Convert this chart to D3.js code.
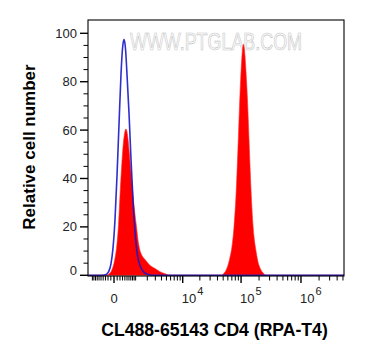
<!DOCTYPE html>
<html><head><meta charset="utf-8">
<script src="https://cdn.jsdelivr.net/npm/d3@7"></script>
<style>body{margin:0;background:#fff}svg{display:block}</style>
</head><body>
<svg id="c" width="365" height="360"></svg>
<script>
// ---- data (fluorescence intensity, relative cell number) ----
const blueX = [-1300,-550,-362,-238,-164,-94,-30,30,94,164,238,298,362,429,500,602,711,830,958,1096,1323,1671,2077,2549,5200000];
const blueY = [0,0,0.1,0.6,1.8,4.8,11.3,23,41,62.5,83,93.6,97.5,93.6,83,67,48,31,18,9.5,4,1.2,0.3,0,0];

const redX = [-1300,-278,-164,-94,-30,30,94,146,200,258,319,384,452,525,602,683,770,861,958,1060,1169,1284,1406,1579,1767,1969,2188,2549,2954,3408,3917,4489,5130,5849,
  45980,51670,58050,63960,70470,76140,82270,88890,94190,99810,104950,109080,114240,121060,128260,135900,143980,152540,164740,177920,192150,207520,232890,261400,5200000];
const redY = [0,0,0.5,1.5,3.5,7,13,21,33,44,53,58.5,60.5,58,52,45,38,31,25,20,14.5,11,9,7.5,6.5,5.5,4.5,3.5,2.8,2,1.3,0.8,0.3,0,
  0,0.8,3,6.5,12,20,33,53,70,84,92.5,95.5,93,84,72,56,40,27,16,10,5.5,3,1,0,0];

const xMajorTicks = [0, 1e4, 1e5, 1e6];
const xMajorLabels = ["0", "4", "5", "6"]; // exponents of 10 (0 is plain)
const yTicks = [0, 20, 40, 60, 80, 100];
const xTitle = "CL488-65143 CD4 (RPA-T4)";
const yTitle = "Relative cell number";
const watermark = "WWW.PTGLAB.COM";

// ---- layout ----
const L = 88, R = 344, T = 20, B = 276;
const svg = d3.select("#c");

const x = d3.scaleSymlog().constant(775).domain([-1324, 5.2e6]).range([L, R]);
const y = d3.scaleLinear().domain([-0.3, 105.5]).range([B, T]);

// minor ticks
const xMinor = [];
[100, 1000, 10000, 100000, 1000000].forEach(d => {
  for (let m = 1; m <= 9; m++) {
    const v = m * d;
    if (v > 5.2e6) continue;
    if (!xMajorTicks.includes(v)) xMinor.push(v);
    if (d <= 100 || (d === 1000 && m === 1)) xMinor.push(-v);
  }
});
const yMinor = d3.range(5, 100, 5).filter(v => v % 20 !== 0);

// watermark
svg.append("text").attr("x", 130).attr("y", 49.5)
  .attr("textLength", 172).attr("lengthAdjust", "spacingAndGlyphs")
  .attr("font-family", "Liberation Sans, Arial, sans-serif").attr("font-size", 24)
  .attr("fill", "none").attr("stroke", "#c4c4c4").attr("stroke-width", 0.7)
  .text(watermark);

// red filled histogram
const redData = redX.map((v, i) => [v, redY[i]]);
svg.append("path").datum(redData)
  .attr("d", d3.area().x(d => x(d[0])).y0(y(0)).y1(d => y(d[1])).curve(d3.curveMonotoneX))
  .attr("fill", "#ff0000").attr("stroke", "#ff2a2a").attr("stroke-width", 0.6);

// blue line histogram
const blueData = blueX.map((v, i) => [v, blueY[i]]);
svg.append("path").datum(blueData)
  .attr("d", d3.line().x(d => x(d[0])).y(d => y(d[1])).curve(d3.curveMonotoneX))
  .attr("fill", "none").attr("stroke", "#1818c8").attr("stroke-width", 1.6).attr("stroke-opacity", 0.9);

// frame
svg.append("rect").attr("x", L).attr("y", T).attr("width", R - L).attr("height", B - T)
  .attr("fill", "none").attr("stroke", "#000").attr("stroke-width", 1.1);

// y ticks
const gy = svg.append("g");
gy.selectAll("line.maj").data(yTicks).join("line")
  .attr("x1", L - 8).attr("x2", L).attr("y1", d => y(d)).attr("y2", d => y(d))
  .attr("stroke", "#000").attr("stroke-width", 1.4);
gy.selectAll("line.min").data(yMinor).join("line")
  .attr("x1", L - 4.5).attr("x2", L).attr("y1", d => y(d)).attr("y2", d => y(d))
  .attr("stroke", "#000").attr("stroke-width", 1);
gy.selectAll("text").data(yTicks).join("text")
  .attr("x", L - 11).attr("y", d => y(d) - (d === 0 ? 5 : 0)).attr("dy", "0.35em")
  .attr("text-anchor", "end").attr("font-family", "Liberation Sans, Arial, sans-serif")
  .attr("font-size", 13).attr("fill", "#222").text(d => d);

// x ticks
const gx = svg.append("g");
gx.selectAll("line.maj").data(xMajorTicks).join("line")
  .attr("x1", d => x(d)).attr("x2", d => x(d)).attr("y1", B).attr("y2", B + 7)
  .attr("stroke", "#000").attr("stroke-width", 1.4);
gx.selectAll("line.min").data(xMinor).join("line")
  .attr("x1", d => x(d)).attr("x2", d => x(d)).attr("y1", B).attr("y2", B + 4.5)
  .attr("stroke", "#000").attr("stroke-width", 1);
xMajorTicks.forEach((v, i) => {
  const t = gx.append("text").attr("y", B + 27)
    .attr("font-family", "Liberation Sans, Arial, sans-serif").attr("font-size", 13).attr("fill", "#222");
  if (v === 0) {
    t.attr("x", x(v)).attr("text-anchor", "middle").text("0");
  } else {
    t.attr("x", x(v) - 1).attr("text-anchor", "start");
    t.append("tspan").text("10");
    t.append("tspan").attr("dy", -8).attr("dx", 1).attr("font-size", 11).text(xMajorLabels[i]);
  }
});

// titles
svg.append("text").attr("x", 214.5).attr("y", 336).attr("text-anchor", "middle")
  .attr("font-family", "Liberation Sans, Arial, sans-serif").attr("font-weight", "bold")
  .attr("font-size", 17.6).attr("fill", "#000").text(xTitle);
svg.append("text").attr("transform", "translate(35,147) rotate(-90)").attr("text-anchor", "middle")
  .attr("font-family", "Liberation Sans, Arial, sans-serif").attr("font-weight", "bold")
  .attr("font-size", 17).attr("fill", "#000").text(yTitle);
</script>
</body></html>
